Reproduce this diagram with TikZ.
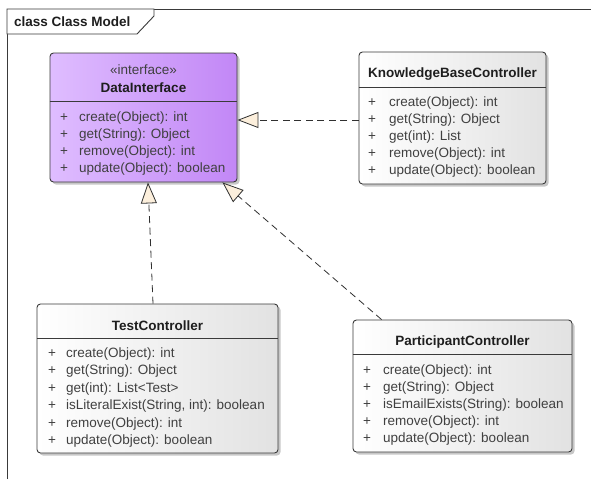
\documentclass[tikz,border=0pt]{standalone}
\usepackage{fontspec}
\setmainfont{Liberation Sans}
\usetikzlibrary{arrows.meta,shadows}
\definecolor{txt}{HTML}{404040}
\definecolor{ttl}{HTML}{1E1E1E}
\definecolor{edge}{HTML}{3A3A3A}
\definecolor{conn}{HTML}{303030}
\definecolor{tri}{HTML}{FCEFDC}
\definecolor{purL}{HTML}{DFBDFF}
\definecolor{purR}{HTML}{C287F6}
\definecolor{greyR}{HTML}{E2E2E2}
\begin{document}
\begin{tikzpicture}[x=1pt,y=-1pt,
  cls/.style={draw=edge, line width=0.9pt, rounded corners=3.5pt, inner sep=0pt,
     drop shadow={shadow xshift=2.5pt, shadow yshift=-2.5pt, opacity=0.22, fill=black}},
  greybox/.style={cls, left color=white, right color=greyR},
  purplebox/.style={cls, left color=purL, right color=purR},
  sep/.style={draw=edge, line width=0.9pt},
  title/.style={font=\bfseries\fontsize{13.5}{16}\selectfont, text=ttl, anchor=base, inner sep=0pt},
  stereo/.style={font=\fontsize{13.5}{16}\selectfont, text=txt, anchor=base, inner sep=0pt},
  mem/.style={font=\fontsize{13.5}{16}\selectfont, text=txt, anchor=base west, inner sep=0pt},
  frameline/.style={draw=edge, line width=0.9pt},
  real/.style={draw=conn, line width=0.8pt, dash pattern=on 7pt off 4.5pt,
     -{Triangle[length=21pt, width=16pt, fill=tri]}},
]
\useasboundingbox (0,0) rectangle (591,479);
\fill[white] (0,0) rectangle (591,479);

% frame
\draw[frameline] (7,479) -- (7,9) -- (591,9);
\draw[frameline, fill=white] (7,9) -- (154,9) -- (154,16) -- (137,34) -- (7,34) -- cycle;
\node[title, anchor=base west] (frametitle) at (14,26.5) {class Class Model};

% class boxes
\node[purplebox, minimum width=187pt, minimum height=129pt] (di) at (143.5,117.5) {};
\node[greybox, minimum width=187pt, minimum height=132pt] (kbc) at (452.5,118) {};
\node[greybox, minimum width=241pt, minimum height=149pt] (tc) at (157.5,378.5) {};
\node[greybox, minimum width=219pt, minimum height=132pt] (pc) at (462.5,386) {};

% separators
\draw[sep] ([yshift=-49pt]di.north west) -- ([yshift=-49pt]di.north east);
\draw[sep] ([yshift=-36pt]kbc.north west) -- ([yshift=-36pt]kbc.north east);
\draw[sep] ([yshift=-35pt]tc.north west) -- ([yshift=-35pt]tc.north east);
\draw[sep] ([yshift=-35pt]pc.north west) -- ([yshift=-35pt]pc.north east);

% titles
\node[stereo] (di-st) at (143.5,74) {«interface»};
\node[title] (di-t) at (143.5,92) {DataInterface};
\node[title] (kbc-t) at (452.5,77.5) {KnowledgeBaseController};
\node[title] (tc-t) at (157.5,330) {TestController};
\node[title] (pc-t) at (462.5,345.5) {ParticipantController};

% members
\foreach \t [count=\i] in {create(Object): int, get(String): Object, remove(Object): int, update(Object): boolean} {
  \node[mem] (di-p\i) at (60,{121.7+16.9*(\i-1)}) {+};
  \node[mem] (di-m\i) at (79,{121.7+16.9*(\i-1)}) {\t};
}
\foreach \t [count=\i] in {create(Object): int, get(String): Object, get(int): List, remove(Object): int, update(Object): boolean} {
  \node[mem] (kbc-p\i) at (368,{106.5+17*(\i-1)}) {+};
  \node[mem] (kbc-m\i) at (389,{106.5+17*(\i-1)}) {\t};
}
\foreach \t [count=\i] in {create(Object): int, get(String): Object, get(int): List<Test>, {isLiteralExist(String, int): boolean}, remove(Object): int, update(Object): boolean} {
  \node[mem] (tc-p\i) at (48,{357.5+17.4*(\i-1)}) {+};
  \node[mem] (tc-m\i) at (66,{357.5+17.4*(\i-1)}) {\t};
}
\foreach \t [count=\i] in {create(Object): int, get(String): Object, isEmailExists(String): boolean, remove(Object): int, update(Object): boolean} {
  \node[mem] (pc-p\i) at (363,{374.5+17*(\i-1)}) {+};
  \node[mem] (pc-m\i) at (383,{374.5+17*(\i-1)}) {\t};
}

% realizations
\draw[real] ([yshift=-2pt]kbc.west) -- ([yshift=-2pt]kbc.west -| di.east);
\draw[real] ([xshift=-4.5pt]tc.north) -- ([xshift=4.5pt]di.south);
\draw[real] ([xshift=29pt]pc.north west) -- ([xshift=-15pt]di.south east);
\end{tikzpicture}
\end{document}
